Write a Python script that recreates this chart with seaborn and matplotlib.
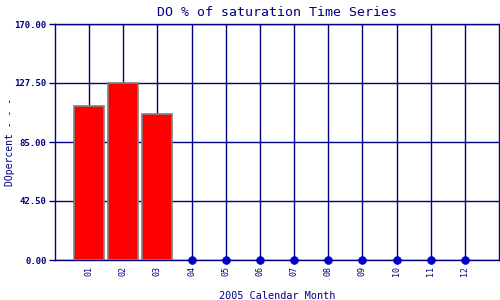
import matplotlib
matplotlib.use("Agg")
import matplotlib.pyplot as plt
import seaborn as sns
import pandas as pd
import numpy as np

months = ["01", "02", "03", "04", "05", "06", "07", "08", "09", "10", "11", "12"]
bar_values = [111.0, 127.5, 105.0]
zero_months = ["04", "05", "06", "07", "08", "09", "10", "11", "12"]
zero_values = [0, 0, 0, 0, 0, 0, 0, 0, 0]
yticks = [0.0, 42.5, 85.0, 127.5, 170.0]
ytick_labels = ["0.00", "42.50", "85.00", "127.50", "170.00"]

sns.set_theme(style="white")
plt.rcParams['font.family'] = ['DejaVu Sans Mono', 'DejaVu Sans']

NAVY = "#000080"
fig = plt.figure(figsize=(5, 3), dpi=100)
ax = fig.add_axes([55/500, 40/300, 444/500, 236/300])

pos = {m: i + 1 for i, m in enumerate(months)}
bar_df = pd.DataFrame({"x": [pos[m] for m in months[:3]], "y": bar_values})
zero_df = pd.DataFrame({"x": [pos[m] for m in zero_months], "y": zero_values})

# grid
for v in yticks:
    ax.axhline(v, color=NAVY, lw=1.0, zorder=1)
for i in range(1, 13):
    ax.axvline(i, color=NAVY, lw=1.0, zorder=1)

ax.bar(bar_df["x"], bar_df["y"], width=0.88, color="#ff0000",
       edgecolor="#808080", linewidth=1.2, zorder=3)
sns.scatterplot(data=zero_df, x="x", y="y", ax=ax, color="#0000cc",
                s=32, edgecolor="#0000cc", zorder=4, clip_on=False, legend=False)

ax.set_xlim(0, 13)
ax.set_ylim(0, 170)
ax.set_yticks(yticks)
ax.set_yticklabels(ytick_labels, fontsize=6.5, fontweight="bold", color=NAVY)
ax.set_xticks(range(1, 13))
ax.set_xticklabels(months, rotation=90, fontsize=6, color=NAVY)
ax.tick_params(axis="y", length=4, width=1, color=NAVY, left=True, pad=2)
ax.tick_params(axis="x", length=0, pad=4)
for s in ax.spines.values():
    s.set_color(NAVY)
    s.set_linewidth(1.0)
ax.set_xlabel("2005 Calendar Month", fontsize=7.3, color=NAVY, labelpad=11)
ax.set_ylabel("DOpercent - - -", fontsize=7, color=NAVY)
ax.yaxis.set_label_coords(-40/444, 0.5)
ax.set_title("DO % of saturation Time Series", fontsize=9.5, color=NAVY, pad=6)

fig.savefig("out.png", dpi=100)
